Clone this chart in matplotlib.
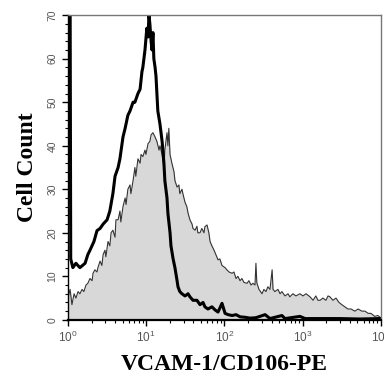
import numpy as np
import matplotlib
matplotlib.use("Agg")
import matplotlib.pyplot as plt
from matplotlib.ticker import MultipleLocator, LogLocator, NullFormatter

# histogram channels (1024 channels over 4 decades) and cell counts
black_ch = [0, 7, 9, 16, 26, 39, 56, 65, 72, 85, 95, 105, 115, 128, 137, 147, 154,
            164, 170, 180, 187, 196, 203, 213, 219, 229, 236, 242, 245, 252, 258,
            262, 265, 268, 272, 275, 278, 281, 285, 288, 294, 301, 308, 314, 317,
            324, 327, 334, 337, 344, 350, 357, 360, 366, 373, 383, 393, 399, 409,
            422, 432, 442, 448, 458, 471, 481, 491, 504, 514, 524, 537, 550, 563,
            579, 596, 615, 645, 661, 700, 710, 759, 776, 825, 890, 955, 1023]
black_cnt = [75, 75, 14, 12, 13, 12, 13, 15, 16, 18, 20.5, 21, 22, 23, 25, 29, 33,
             35, 37, 42, 44, 47, 48, 50, 50, 52, 53, 57, 58, 62, 67,
             65, 70, 68, 64, 62, 66, 60, 58, 56, 48, 45, 41, 36, 32,
             28, 24.5, 20, 17, 14, 12, 9, 7.6, 6.5, 6, 5.5, 6, 5.3, 4.5,
             4.5, 3.5, 4, 3, 2.5, 3, 2.3, 1.8, 3.8, 1.5, 1.2, 1.0, 1.2, 0.7,
             0.6, 0.4, 0.5, 1.2, 0.3, 1.0, 0.3, 0.8, 0.3, 0.3, 0.3, 0.2, 0.3]

grey_ch = [0, 7, 13, 20, 26, 33, 39, 46, 52, 59, 65, 72, 79, 82, 88, 95, 98, 105,
           111, 115, 121, 124, 131, 137, 141, 147, 154, 157, 164, 170, 173, 180,
           187, 190, 196, 203, 206, 213, 219, 222, 229, 236, 239, 245, 252, 255,
           262, 268, 272, 278, 285, 291, 298, 301, 308, 314, 317, 324, 327, 330,
           334, 340, 347, 350, 357, 363, 366, 373, 376, 383, 389, 393, 399, 406,
           409, 416, 422, 425, 432, 438, 445, 448, 455, 461, 465, 471, 478, 484,
           491, 497, 504, 514, 520, 527, 537, 543, 550, 556, 563, 569, 576, 586,
           592, 599, 605, 612, 615, 618, 625, 635, 641, 648, 654, 661, 668, 671,
           677, 687, 694, 700, 710, 720, 726, 736, 746, 759, 769, 779, 792, 802,
           811, 818, 825, 834, 844, 851, 857, 867, 877, 887, 896, 906, 916, 926,
           939, 949, 962, 972, 982, 991, 1004, 1014, 1023]
grey_cnt = [5, 7, 3.5, 6, 5, 6.5, 6, 7, 6.5, 8, 8.4, 9.5, 9, 10.7, 11.5, 11, 12, 13.5,
            12.5, 15, 16, 14.5, 18, 17, 20, 20.6, 19, 23, 23, 25, 22.5, 26,
            28, 26.5, 30, 31, 29, 32, 35, 33, 37, 36, 38, 37.5, 39, 38,
            40.5, 41, 42.5, 43, 42, 41, 39, 40, 38, 35, 39, 43, 40, 44,
            38, 36, 34, 32, 30.5, 31, 29, 30, 29, 27, 26, 24.5, 23, 22,
            21, 20.6, 21.5, 20, 20, 21, 20, 21.4, 21.8, 20, 18, 17, 16, 15,
            13.8, 14, 12.5, 12, 11.5, 11, 10.7, 11, 9.5, 10, 9, 9.5, 8.6, 8.4,
            9, 8, 8.4, 8, 13, 8.5, 7, 6, 7, 6.5, 7.6, 7, 11.5, 7,
            6.5, 7, 6, 6.5, 5.5, 6, 5.3, 6, 5.5, 6, 5.5, 6, 5.3, 4.5,
            5.5, 4.5, 4.5, 5, 4.5, 5.5, 5.3, 4.5, 5, 4, 3.5, 3, 2.5, 2.5,
            2, 2.5, 2, 2, 1.5, 1.5, 0.8, 1, 0.5]

x_ticks = [1, 10, 100, 1000, 10000]
x_ticklabels = ["$10^{0}$", "$10^{1}$", "$10^{2}$", "$10^{3}$", "$10^{4}$"]
y_ticks = [0, 10, 20, 30, 40, 50, 60, 70]

plt.rcParams["font.family"] = "Liberation Sans"
plt.rcParams["mathtext.fontset"] = "custom"
plt.rcParams["mathtext.rm"] = "Liberation Sans"
plt.rcParams["mathtext.it"] = "Liberation Sans"

black_x = 10 ** (np.array(black_ch) / 256.0)
grey_x = 10 ** (np.array(grey_ch) / 256.0)

fig = plt.figure(figsize=(3.84, 3.79), dpi=100)
ax = fig.add_axes([0.177, 0.156, 0.815, 0.804])

ax.fill_between(grey_x, grey_cnt, 0, color="#d8d8d8", lw=0)
ax.plot(grey_x, grey_cnt, color="#333333", lw=0.8)
ax.plot(black_x, black_cnt, color="black", lw=2.2)

ax.set_xscale("log")
ax.set_xlim(1, 10000)
ax.set_ylim(0, 70)

ax.set_xticks(x_ticks)
ax.set_xticklabels(x_ticklabels, color="#555555", fontsize=8.5)
ax.xaxis.set_minor_locator(LogLocator(base=10, subs=np.arange(2, 10)))
ax.xaxis.set_minor_formatter(NullFormatter())

ax.set_yticks(y_ticks)
ax.set_yticklabels([str(v) for v in y_ticks], rotation=90, va="center",
                   color="#555555", fontsize=7.5)
ax.yaxis.set_minor_locator(MultipleLocator(2))

ax.tick_params(which="major", length=4, width=1, color="black")
ax.tick_params(which="minor", length=2.5, width=0.8, color="black")

for side in ["top", "right"]:
    ax.spines[side].set_color("#777777")
    ax.spines[side].set_linewidth(1)
ax.spines["left"].set_linewidth(1)
ax.spines["bottom"].set_linewidth(1.6)

ax.set_xlabel("VCAM-1/CD106-PE", family="Liberation Serif", fontweight="bold",
              fontsize=17, labelpad=6)
ax.set_ylabel("Cell Count", family="Liberation Serif", fontweight="bold",
              fontsize=17, labelpad=7)

fig.savefig("out.png", dpi=100)
